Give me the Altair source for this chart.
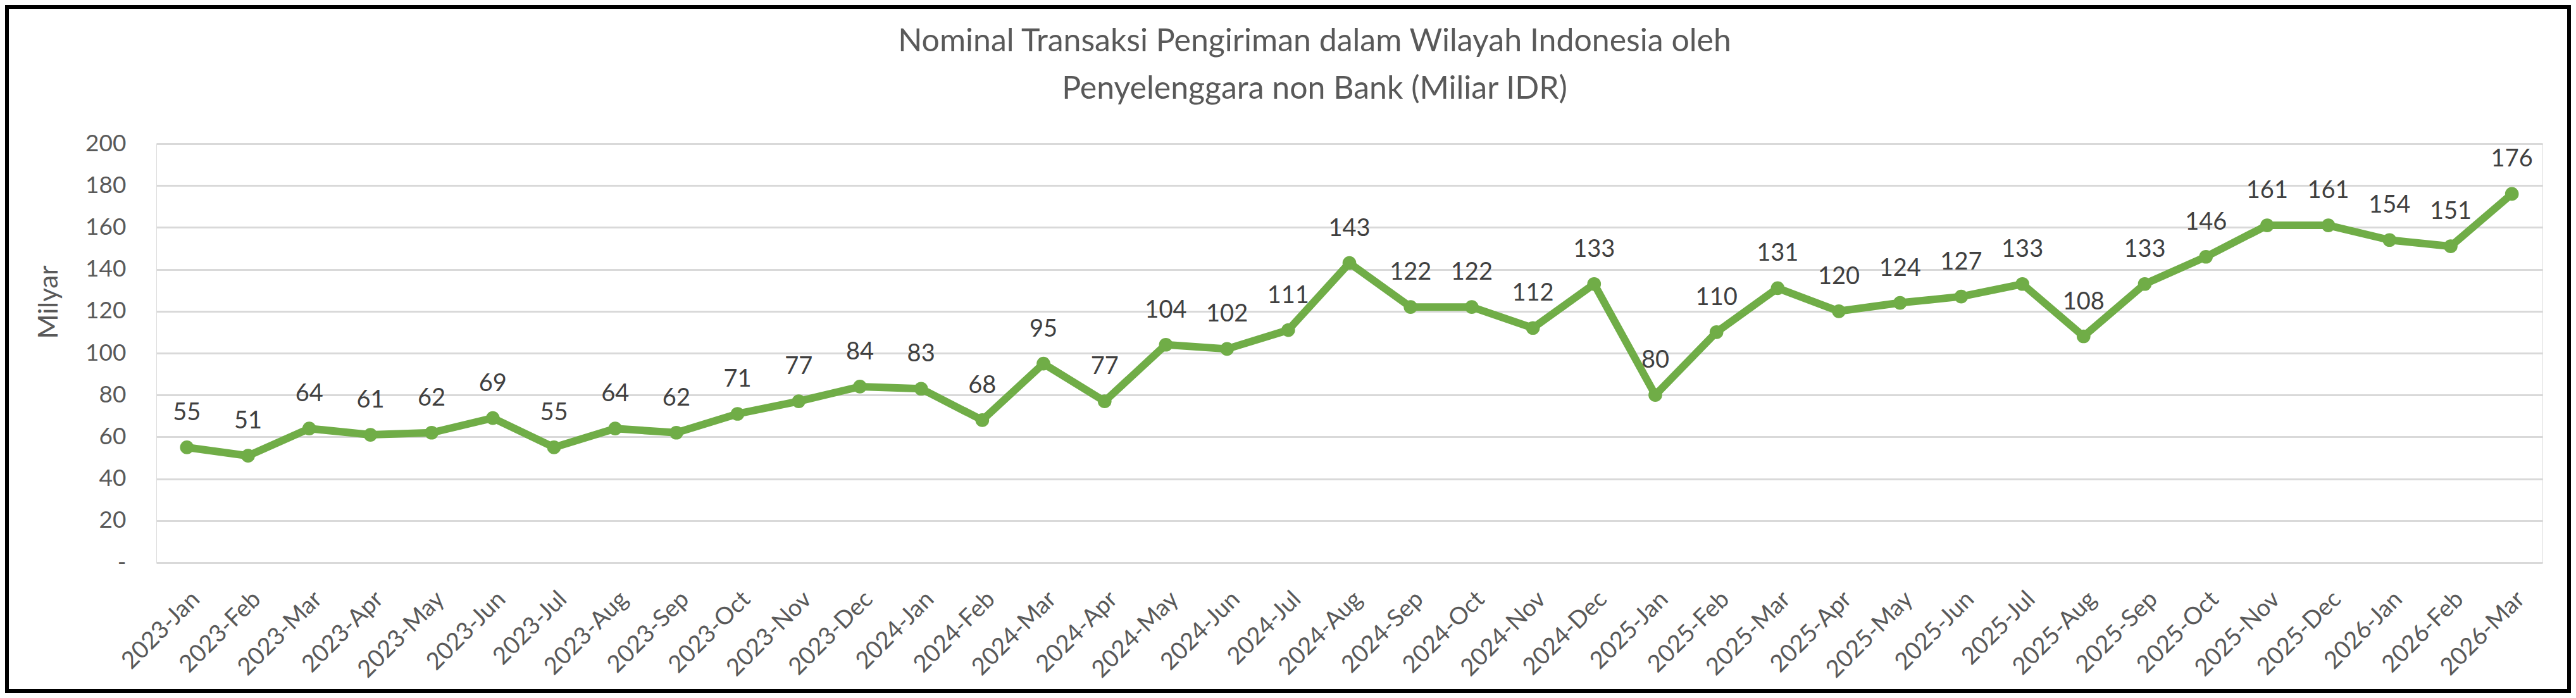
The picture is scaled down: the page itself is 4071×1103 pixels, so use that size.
import altair as alt
import pandas as pd

months = ["Jan", "Feb", "Mar", "Apr", "May", "Jun", "Jul", "Aug", "Sep", "Oct", "Nov", "Dec"]
periods = ([f"2023-{m}" for m in months] + [f"2024-{m}" for m in months]
           + [f"2025-{m}" for m in months] + ["2026-Jan", "2026-Feb", "2026-Mar"])
values = [55, 51, 64, 61, 62, 69, 55, 64, 62, 71, 77, 84,
          83, 68, 95, 77, 104, 102, 111, 143, 122, 122, 112, 133,
          80, 110, 131, 120, 124, 127, 133, 108, 133, 146, 161, 161,
          154, 151, 176]
y_ticks = [0, 20, 40, 60, 80, 100, 120, 140, 160, 180, 200]

df = pd.DataFrame({"periode": periods, "nilai": values})

FONT = "Lato"
GREEN = "#70AD47"
W, H = 3771, 662
PAD = {"left": 239, "top": 219, "right": 45, "bottom": 206}

x_enc = alt.X("periode:N", sort=periods, title=None,
              scale=alt.Scale(paddingInner=0, paddingOuter=0),
              axis=alt.Axis(labelAngle=-45, labelAlign="right", labelBaseline="middle",
                            labelPadding=52, labelOffset=14, ticks=False, tickSize=0,
                            domain=False, grid=False, labelFontSize=38, labelFont=FONT,
                            labelColor="#595959", labelOverlap=False))
y_enc = alt.Y("nilai:Q", title="Milyar",
              scale=alt.Scale(domain=[0, 200], nice=False, zero=True),
              axis=alt.Axis(values=y_ticks, ticks=False, tickSize=0, domain=False,
                            labelPadding=48, labelFontSize=37, labelFont=FONT,
                            labelColor="#595959",
                            labelExpr="datum.value == 0 ? '-\u00a0\u00a0' : datum.label",
                            gridColor="#D9D9D9", gridWidth=3,
                            titleFont=FONT, titleFontSize=42, titleFontWeight="normal",
                            titleColor="#595959", titleX=-170, titleY=250,
                            titleAngle=270, titleAlign="center", titleBaseline="middle"))

base = alt.Chart(df).encode(x=x_enc, y=y_enc)

line = base.mark_line(color=GREEN, strokeWidth=12, strokeJoin="round")
points = base.mark_point(filled=True, color=GREEN, size=470, opacity=1, shape="circle")
labels = base.mark_text(baseline="alphabetic", align="center", dy=-43, font=FONT,
                        fontSize=38, color="#404040").encode(text="nilai:Q")

frame = alt.Chart(pd.DataFrame({"f": [0]})).mark_rect(
    fill=None, stroke="black", strokeWidth=6
).encode(x=alt.value(-PAD["left"] + 3), x2=alt.value(W + PAD["right"] - 3),
         y=alt.value(-PAD["top"] + 3), y2=alt.value(H + PAD["bottom"] - 3))

chart = (line + points + labels + frame).properties(
    width=W, height=H,
    title=alt.TitleParams(
        ["Nominal Transaksi Pengiriman dalam Wilayah Indonesia oleh",
         "Penyelenggara non Bank (Miliar IDR)"],
        font=FONT, fontSize=50, fontWeight="normal", color="#595959",
        anchor="middle", frame="group", baseline="bottom",
        lineHeight=75, dx=-55, offset=-208),
    autosize=alt.AutoSizeParams(type="none"),
    padding=PAD,
).configure_view(stroke=None).configure(background="white")

chart.save("out.html", embed_options={"renderer": "svg", "actions": False})
